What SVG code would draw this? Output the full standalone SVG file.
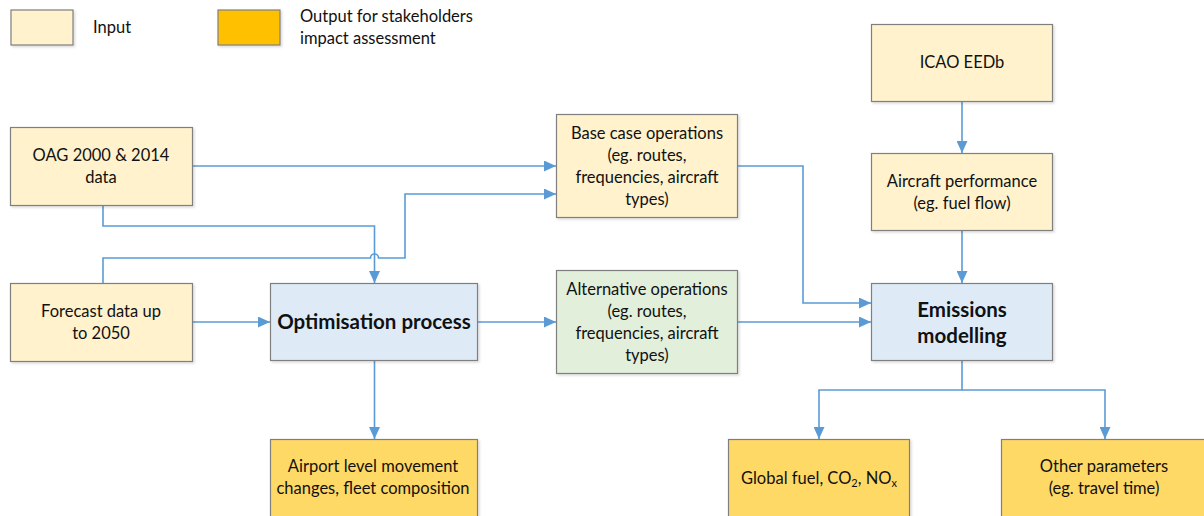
<svg xmlns="http://www.w3.org/2000/svg" width="1204" height="516" viewBox="0 0 1204 516">
<style>
.box{stroke:#7f7f7f;stroke-width:1.2}
.in{fill:#FFF2CC}
.out{fill:#FFD966}
.proc{fill:#DEEBF7}
.alt{fill:#E2EFDA}
text{font-family:Lato,"Open Sans","Liberation Sans",sans-serif;font-size:16.5px;fill:#111;text-anchor:middle}
.b{font-weight:bold;font-size:20.5px}
.l{text-anchor:start}
.c{fill:none;stroke:#5B9BD5;stroke-width:1.6}
</style>
<defs>
<marker id="ah" viewBox="0 0 12 11" refX="12" refY="5.5" markerWidth="12" markerHeight="11" markerUnits="userSpaceOnUse" orient="auto"><path d="M0,0 L12,5.5 L0,11 z" fill="#5B9BD5"/></marker>
<filter id="sh" x="-5%" y="-5%" width="115%" height="120%"><feDropShadow dx="1.5" dy="1.5" stdDeviation="1" flood-color="#000" flood-opacity="0.15"/></filter>
</defs>
<rect width="1204" height="516" fill="#fff"/>
<g id="legend">
<rect class="box in" x="11" y="10" width="62" height="35" filter="url(#sh)"/>
<text class="l" x="93" y="33">Input</text>
<rect class="box" x="218" y="10" width="62" height="35" fill="#FFC000" filter="url(#sh)"/>
<text class="l" x="300" y="22">Output for stakeholders</text>
<text class="l" x="300" y="44">impact assessment</text>
</g>
<g id="connectors">
<path class="c" d="M192,166 H556" marker-end="url(#ah)"/>
<path class="c" d="M103,205 V226 H374.5 V283" marker-end="url(#ah)"/>
<path class="c" d="M103,283 V258 H370.5 A4,4 0 0 1 378.5,258 H405 V194 H556" marker-end="url(#ah)"/>
<path class="c" d="M192,322 H270" marker-end="url(#ah)"/>
<path class="c" d="M478,322 H556" marker-end="url(#ah)"/>
<path class="c" d="M738,322 H871" marker-end="url(#ah)"/>
<path class="c" d="M738,166 H803 V303 H871" marker-end="url(#ah)"/>
<path class="c" d="M962,101 V153" marker-end="url(#ah)"/>
<path class="c" d="M962,231 V283" marker-end="url(#ah)"/>
<path class="c" d="M962,361 V390 H819 V439" marker-end="url(#ah)"/>
<path class="c" d="M962,390 H1105 V439" marker-end="url(#ah)"/>
<path class="c" d="M374.5,361 V439" marker-end="url(#ah)"/>
</g>
<g id="oag">
<rect class="box in" x="10.5" y="127.5" width="182" height="78" filter="url(#sh)"/>
<text x="101" y="161">OAG 2000 &amp; 2014</text>
<text x="101" y="183">data</text>
</g>
<g id="forecast">
<rect class="box in" x="10.5" y="283.5" width="182" height="78" filter="url(#sh)"/>
<text x="101" y="317">Forecast data up</text>
<text x="101" y="339">to 2050</text>
</g>
<g id="optimisation">
<rect class="box proc" x="270.5" y="283.5" width="207" height="77" filter="url(#sh)"/>
<text class="b" x="374" y="329">Optimisation process</text>
</g>
<g id="basecase">
<rect class="box in" x="556.5" y="114.5" width="181" height="103" filter="url(#sh)"/>
<text x="647" y="139">Base case operations</text>
<text x="647" y="161">(eg. routes,</text>
<text x="647" y="183">frequencies, aircraft</text>
<text x="647" y="205">types)</text>
</g>
<g id="alternative">
<rect class="box alt" x="556.5" y="270.5" width="181" height="103" filter="url(#sh)"/>
<text x="647" y="295">Alternative operations</text>
<text x="647" y="317">(eg. routes,</text>
<text x="647" y="339">frequencies, aircraft</text>
<text x="647" y="361">types)</text>
</g>
<g id="icao">
<rect class="box in" x="871.5" y="24.5" width="181" height="77" filter="url(#sh)"/>
<text x="962" y="68">ICAO EEDb</text>
</g>
<g id="aircraft">
<rect class="box in" x="871.5" y="153.5" width="181" height="77" filter="url(#sh)"/>
<text x="962" y="187">Aircraft performance</text>
<text x="962" y="209">(eg. fuel flow)</text>
</g>
<g id="emissions">
<rect class="box proc" x="871.5" y="283.5" width="181" height="77" filter="url(#sh)"/>
<text class="b" x="962" y="317">Emissions</text>
<text class="b" x="962" y="343">modelling</text>
</g>
<g id="airport">
<rect class="box out" x="270.5" y="439.5" width="207" height="90" filter="url(#sh)"/>
<text x="373" y="472">Airport level movement</text>
<text x="373" y="494">changes, fleet composition</text>
</g>
<g id="global">
<rect class="box out" x="728.5" y="439.5" width="181" height="90" filter="url(#sh)"/>
<text x="819" y="484">Global fuel, CO<tspan font-size="11" dy="3">2</tspan><tspan dy="-3">, NO</tspan><tspan font-size="11" dy="3">x</tspan></text>
</g>
<g id="other">
<rect class="box out" x="1001.5" y="439.5" width="220" height="90" filter="url(#sh)"/>
<text x="1104" y="472">Other parameters</text>
<text x="1104" y="494">(eg. travel time)</text>
</g>
</svg>
